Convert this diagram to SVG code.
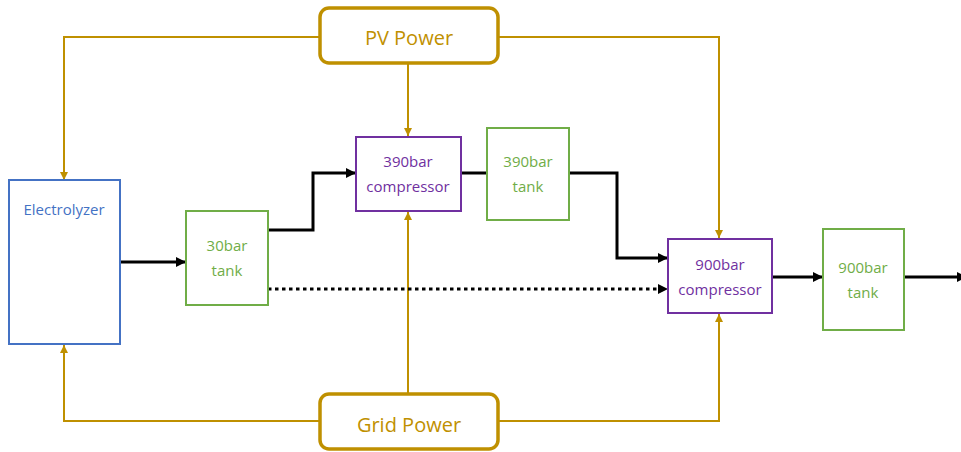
<svg xmlns="http://www.w3.org/2000/svg" width="961" height="452" viewBox="0 0 961 452">
<defs>
<marker id="ab" markerWidth="10" markerHeight="10" refX="9" refY="5" orient="auto" markerUnits="userSpaceOnUse"><path d="M0,0 L10,5 L0,10 z" fill="#000"/></marker>
<marker id="ag" markerWidth="8" markerHeight="8" refX="8" refY="4" orient="auto" markerUnits="userSpaceOnUse"><path d="M0,0 L8,4 L0,8 z" fill="#BF9000"/></marker>
</defs>
<style>
text{font-family:"Open Sans","Noto Sans",sans-serif;text-anchor:middle;dominant-baseline:central}
.box{fill:#fff;stroke-width:2}
.pw{fill:#fff;stroke:#BF9000;stroke-width:3.5}
.g{fill:none;stroke:#BF9000;stroke-width:2;marker-end:url(#ag)}
.b{fill:none;stroke:#000;stroke-width:3;marker-end:url(#ab)}
.t{font-size:15px}
.tp{font-size:20px;fill:#BF9000}
</style>
<rect width="961" height="452" fill="#fff"/>
<g id="connectors">
<polyline class="g" points="320,37 64,37 64,180"/>
<polyline class="g" points="408,63 408,136"/>
<polyline class="g" points="498,37 719,37 719,238"/>
<polyline class="g" points="320,421 64,421 64,345"/>
<polyline class="g" points="408,394 408,212"/>
<polyline class="g" points="498,421 719,421 719,314"/>
<polyline class="b" points="120,262 185,262"/>
<polyline class="b" points="268,230 313,230 313,173 355,173"/>
<polyline fill="none" stroke="#000" stroke-width="3" points="461,173 487,173"/>
<polyline class="b" points="569,173 617,173 617,258 667,258"/>
<polyline class="b" points="268,289 667,289" stroke-dasharray="3.5,3.5"/>
<polyline class="b" points="772,277 822,277"/>
<polyline class="b" points="904,277 966,277"/>
</g>
<g id="pv"><rect class="pw" x="320" y="8" width="178" height="55" rx="9"/><text class="tp" x="409" y="37">PV Power</text></g>
<g id="grid"><rect class="pw" x="320" y="394" width="178" height="55" rx="9"/><text class="tp" x="409" y="424">Grid Power</text></g>
<g id="electrolyzer"><rect class="box" stroke="#4472C4" x="9" y="180" width="111" height="164"/><text class="t" fill="#4472C4" x="64" y="209">Electrolyzer</text></g>
<g id="tank30"><rect class="box" stroke="#70AD47" x="186" y="211" width="82" height="94"/><text class="t" fill="#70AD47" x="227" y="245">30bar</text><text class="t" fill="#70AD47" x="227" y="270">tank</text></g>
<g id="comp390"><rect class="box" stroke="#7030A0" x="356" y="137" width="105" height="74"/><text class="t" fill="#7030A0" x="408" y="161">390bar</text><text class="t" fill="#7030A0" x="408" y="186">compressor</text></g>
<g id="tank390"><rect class="box" stroke="#70AD47" x="487" y="128" width="82" height="92"/><text class="t" fill="#70AD47" x="528" y="161">390bar</text><text class="t" fill="#70AD47" x="528" y="186">tank</text></g>
<g id="comp900"><rect class="box" stroke="#7030A0" x="668" y="239" width="104" height="74"/><text class="t" fill="#7030A0" x="720" y="264">900bar</text><text class="t" fill="#7030A0" x="720" y="289">compressor</text></g>
<g id="tank900"><rect class="box" stroke="#70AD47" x="823" y="229" width="81" height="101"/><text class="t" fill="#70AD47" x="863" y="267">900bar</text><text class="t" fill="#70AD47" x="863" y="292">tank</text></g>
</svg>
